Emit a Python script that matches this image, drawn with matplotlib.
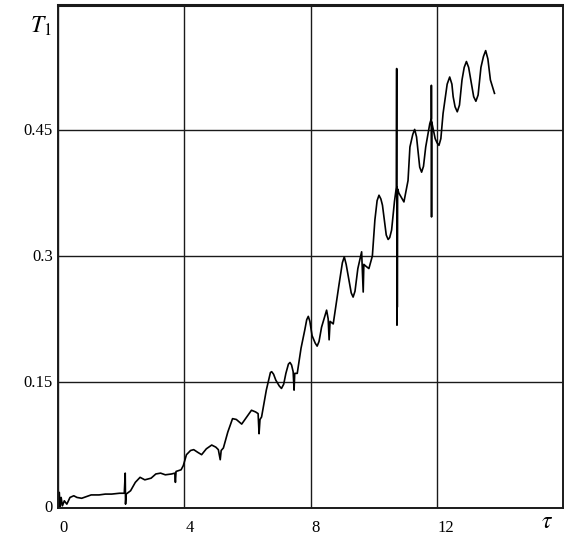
import matplotlib
matplotlib.use("Agg")
import matplotlib.pyplot as plt

plt.rcParams["mathtext.fontset"] = "stix"
plt.rcParams["font.family"] = ["Liberation Serif", "DejaVu Serif"]

# Dimensionless time tau and temperature T1 (including the numerical spikes)
tau = [
    0.00, 0.00, 0.02, 0.04, 0.07, 0.10, 0.14, 0.20, 0.28, 0.38, 0.50, 0.60,
    0.75, 0.90, 1.05, 1.30, 1.50, 1.70, 1.95, 2.10, 2.13, 2.14, 2.16, 2.30,
    2.45, 2.60, 2.75, 2.95, 3.10, 3.25, 3.40, 3.60, 3.70, 3.72, 3.74, 3.90,
    3.97, 4.07, 4.20, 4.30, 4.42, 4.55, 4.70, 4.87, 5.00, 5.08, 5.14, 5.17,
    5.24, 5.38, 5.53, 5.65, 5.82, 5.98, 6.13, 6.26, 6.34, 6.37, 6.40, 6.45,
    6.60, 6.70, 6.73, 6.77, 6.83, 6.90, 7.01, 7.08, 7.15, 7.22, 7.30, 7.35,
    7.40, 7.45, 7.48, 7.50, 7.58, 7.70, 7.82, 7.88, 7.93, 7.98, 8.05, 8.15,
    8.21, 8.27, 8.35, 8.51, 8.56, 8.59, 8.62, 8.72, 8.90, 9.01, 9.07, 9.13,
    9.20, 9.29, 9.35, 9.41, 9.50, 9.62, 9.67, 9.69, 9.75, 9.85, 9.96, 10.04,
    10.11, 10.17, 10.23, 10.28, 10.40, 10.46, 10.51, 10.57, 10.66, 10.72,
    10.73, 10.74, 10.745, 10.75, 10.76, 10.80, 10.96, 11.09, 11.15, 11.24,
    11.30, 11.36, 11.42, 11.46, 11.52, 11.58, 11.65, 11.78, 11.83, 11.83,
    11.835, 11.84, 11.95, 12.01, 12.07, 12.13, 12.20, 12.33, 12.41, 12.48,
    12.52, 12.58, 12.65, 12.72, 12.80, 12.87, 12.94, 13.01, 13.10, 13.17,
    13.24, 13.31, 13.40, 13.48, 13.55, 13.62, 13.70, 13.83,
]
T1 = [
    0.000, 0.029, 0.002, 0.018, 0.001, 0.012, 0.002, 0.008, 0.004, 0.012, 0.014, 0.012,
    0.011, 0.013, 0.015, 0.015, 0.016, 0.016, 0.017, 0.017, 0.041, 0.004, 0.016, 0.020,
    0.030, 0.036, 0.033, 0.035, 0.040, 0.041, 0.039, 0.040, 0.041, 0.030, 0.043, 0.045,
    0.050, 0.063, 0.068, 0.069, 0.066, 0.063, 0.070, 0.0745, 0.072, 0.069, 0.057, 0.068,
    0.071, 0.090, 0.106, 0.105, 0.0995, 0.108, 0.116, 0.114, 0.112, 0.088, 0.105, 0.108,
    0.140, 0.156, 0.161, 0.162, 0.159, 0.152, 0.145, 0.142, 0.147, 0.160, 0.171, 0.173,
    0.170, 0.162, 0.140, 0.160, 0.160, 0.190, 0.212, 0.224, 0.228, 0.222, 0.205, 0.196,
    0.1925, 0.198, 0.215, 0.2354, 0.225, 0.200, 0.222, 0.219, 0.265, 0.292, 0.299, 0.290,
    0.275, 0.256, 0.251, 0.258, 0.285, 0.305, 0.257, 0.290, 0.288, 0.285, 0.300, 0.343,
    0.366, 0.3725, 0.368, 0.3606, 0.325, 0.3197, 0.322, 0.331, 0.365, 0.382,
    0.5236, 0.2175, 0.382, 0.239, 0.380, 0.375, 0.3645, 0.390, 0.430, 0.445,
    0.451, 0.442, 0.420, 0.406, 0.400, 0.407, 0.430, 0.458, 0.464, 0.5036,
    0.3466, 0.460, 0.440, 0.435, 0.432, 0.440, 0.470, 0.505, 0.5135, 0.505,
    0.490, 0.478, 0.472, 0.480, 0.510, 0.525, 0.532, 0.525, 0.505, 0.490,
    0.4846, 0.492, 0.525, 0.538, 0.545, 0.535, 0.510, 0.494,
]

x_ticks = [0, 4, 8, 12]
x_tick_labels = ["0", "4", "8", "12"]
y_ticks = [0, 0.15, 0.3, 0.45]
y_tick_labels = ["0", "0.15", "0.3", "0.45"]

fig = plt.figure(figsize=(5.64, 5.36), dpi=100)
ax = fig.add_axes([58 / 564, 28.5 / 536, 505 / 564, 503 / 536])

ax.plot(tau, T1, color="black", lw=1.2, solid_joinstyle="round")

ax.set_xlim(0, 16)
ax.set_ylim(0, 0.6)
ax.set_xticks(x_ticks)
ax.set_yticks(y_ticks)
ax.set_xticklabels([])
ax.set_yticklabels([])
ax.tick_params(length=0)
ax.grid(True, color="#1a1a1a", lw=1.0)

for s in ax.spines.values():
    s.set_linewidth(1.4)
    s.set_color("#1a1a1a")
ax.spines["top"].set_linewidth(2.2)

for xv, lab in zip(x_ticks, x_tick_labels):
    ax.annotate(lab, xy=(xv, 0), xycoords="data", xytext=(1, -12),
                textcoords="offset pixels", ha="left", va="top", fontsize=12)
for yv, lab in zip(y_ticks, y_tick_labels):
    ax.annotate(lab, xy=(0, yv), xycoords="data", xytext=(-5, -1),
                textcoords="offset pixels", ha="right", va="center", fontsize=12)

fig.text(30 / 564, 1 - 26 / 536, r"$T_1$", fontsize=17, ha="left", va="center")
fig.text(547 / 564, 1 - 523 / 536, r"$\tau$", fontsize=17, ha="center", va="center")

fig.savefig("out.png", dpi=100)
